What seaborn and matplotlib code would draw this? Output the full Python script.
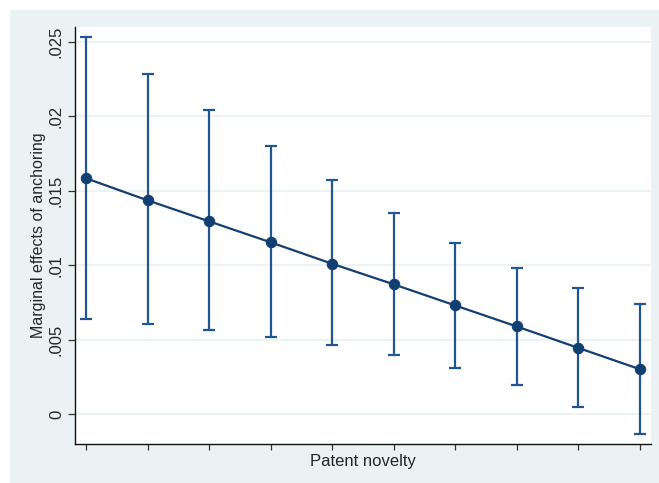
import matplotlib
matplotlib.use("Agg")
import matplotlib.pyplot as plt
from matplotlib.patches import Rectangle
from matplotlib.ticker import FuncFormatter
import numpy as np
import pandas as pd
import seaborn as sns

# Marginal effects of anchoring at ten levels of patent novelty
novelty_level = [1, 2, 3, 4, 5, 6, 7, 8, 9, 10]
effect = [0.01584, 0.01436, 0.01295, 0.01154, 0.01010, 0.00872, 0.00730, 0.00589, 0.00445, 0.00302]
ci_upper = [0.02530, 0.02282, 0.02040, 0.01799, 0.01570, 0.01351, 0.01148, 0.00980, 0.00846, 0.00738]
ci_lower = [0.00638, 0.00604, 0.00564, 0.00517, 0.00463, 0.00398, 0.00311, 0.00195, 0.00047, -0.00136]
y_ticks = [0.0, 0.005, 0.01, 0.015, 0.02, 0.025]

df = pd.DataFrame({"novelty": novelty_level, "effect": effect,
                   "lo": ci_lower, "hi": ci_upper})

sns.set_style("white")
plt.rcParams["font.family"] = ["Liberation Sans", "DejaVu Sans"]

navy = "#123f72"
ci_color = "#1f5591"
panel = "#eaf2f3"

fig = plt.figure(figsize=(6.59, 4.83), dpi=100)
fig.patch.set_facecolor("white")
# light graph-region panel, kept behind the axes
fig.patches.append(Rectangle((10 / 659, 0), 1 - 10 / 659, 1 - 10 / 483,
                             transform=fig.transFigure, facecolor=panel,
                             edgecolor="none", zorder=-10))

ax = fig.add_axes([75 / 659, 39 / 483, 576 / 659, 417 / 483])
ax.set_facecolor("white")

# confidence intervals
ax.errorbar(df["novelty"], df["effect"],
            yerr=[df["effect"] - df["lo"], df["hi"] - df["effect"]],
            fmt="none", ecolor=ci_color, elinewidth=1.6, capsize=4.5,
            capthick=1.6, zorder=2)

# point estimates joined by a line
sns.lineplot(data=df, x="novelty", y="effect", ax=ax, color=navy,
             linewidth=1.6, marker="o", markersize=7.5,
             markeredgecolor=navy, markerfacecolor=navy, zorder=3)

ax.set_xlim(0.82, 10.18)
ax.set_ylim(-0.002, 0.026)
ax.set_xticks(novelty_level)
ax.set_xticklabels([])
ax.set_yticks(y_ticks)

def fmt(v, _):
    if abs(v) < 1e-12:
        return "0"
    s = f"{v:.3f}".rstrip("0")
    return s.lstrip("0")

ax.yaxis.set_major_formatter(FuncFormatter(fmt))
ax.tick_params(axis="y", direction="out", length=5, width=0.9, color="#333333",
               labelsize=12, pad=3, left=True)
ax.tick_params(axis="x", direction="out", length=4.5, width=0.9, color="#333333",
               bottom=True)
fig.canvas.draw()
for lab in ax.get_yticklabels():
    lab.set_rotation(90)
    lab.set_rotation_mode("default")
    lab.set_ha("right")
    lab.set_va("center")

ax.yaxis.grid(True, color=panel, linewidth=1.3)
ax.xaxis.grid(False)
ax.set_axisbelow(True)

for side in ["top", "right"]:
    ax.spines[side].set_visible(False)
for side in ["left", "bottom"]:
    ax.spines[side].set_color("#111111")
    ax.spines[side].set_linewidth(1.0)

ax.set_xlabel("Patent novelty", fontsize=12)
ax.set_ylabel("Marginal effects of anchoring", fontsize=11.5)
ax.xaxis.set_label_coords(0.5, -0.041)
ax.yaxis.set_label_coords(-0.064, 0.5)
ax.xaxis.label.set_va("center")
ax.yaxis.label.set_va("center")

fig.savefig("out.png", dpi=100, facecolor=fig.get_facecolor())
